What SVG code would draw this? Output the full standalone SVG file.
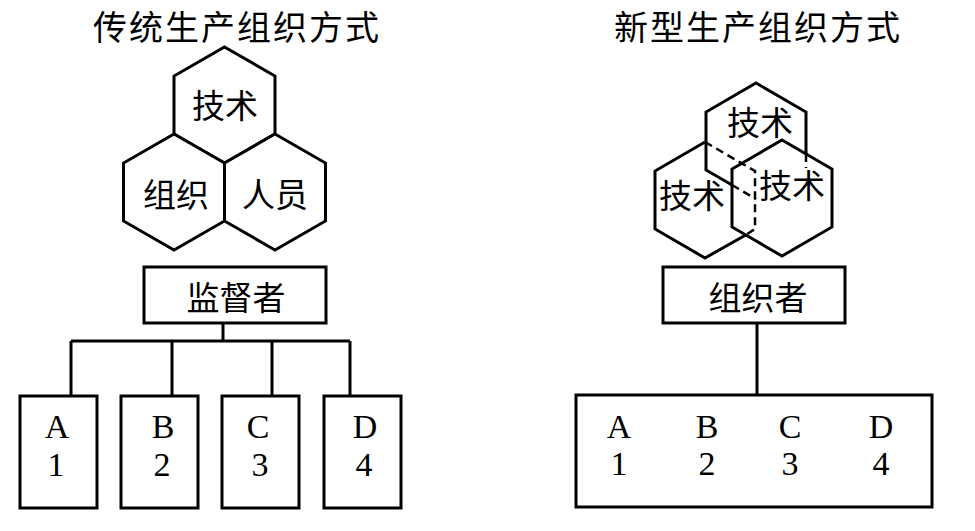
<svg xmlns="http://www.w3.org/2000/svg" width="975" height="531" viewBox="0 0 975 531">
<style>
.ln{fill:none;stroke:#000;stroke-width:3;stroke-linejoin:miter;stroke-linecap:butt}
.hex{fill:#fff;stroke:#000;stroke-width:3;stroke-linejoin:miter}
.ds{fill:none;stroke:#000;stroke-width:2.5;stroke-dasharray:8 5}
.box{fill:#fff;stroke:#000;stroke-width:3}
.cjk{font-family:"Noto Sans CJK SC","Noto Sans",sans-serif;fill:#000;text-anchor:middle}
.title{font-size:34px;letter-spacing:2px}
.lbl{font-size:33px}
.ser{font-family:"Liberation Serif","Times New Roman",serif;font-size:34px;fill:#000;text-anchor:middle}
.knock{fill:#fff;stroke:none}
</style>
<rect width="975" height="531" fill="#fff"/>

<g id="titles">
<text class="cjk title" x="237" y="40">传统生产组织方式</text>
<text class="cjk title" x="758" y="40">新型生产组织方式</text>
</g>

<!-- Left: traditional -->
<g id="hex-jishu-left">
<polygon class="hex" points="224.5,47 275,76 275,134 224.5,163 174,134 174,76"/>
<text class="cjk lbl" x="225" y="118">技术</text>
</g>
<g id="hex-zuzhi-left">
<polygon class="hex" points="174,134 224.5,163 224.5,221 174,250 123.5,221 123.5,163"/>
<text class="cjk lbl" x="176" y="207">组织</text>
</g>
<g id="hex-renyuan-left">
<polygon class="hex" points="275,134 325.5,163 325.5,221 275,250 224.5,221 224.5,163"/>
<text class="cjk lbl" x="275" y="207">人员</text>
</g>

<g id="connectors">
<path class="ln" d="M223,323 V341 M71,341 H350 M71,341 V396 M172,341 V396 M272,341 V396 M350,341 V396"/>
<path class="ln" d="M757,323 V395"/>
</g>

<g id="supervisor">
<rect class="box" x="144" y="267" width="182" height="56"/>
<text class="cjk lbl" x="236" y="310">监督者</text>
</g>
<g id="unit-A">
<rect class="box" x="20" y="396" width="77" height="112"/>
<text class="ser" x="57" y="438">A</text>
<text class="ser" x="56" y="476">1</text>
</g>
<g id="unit-B">
<rect class="box" x="121" y="396" width="77" height="112"/>
<text class="ser" x="163" y="438">B</text>
<text class="ser" x="162" y="476">2</text>
</g>
<g id="unit-C">
<rect class="box" x="222" y="396" width="77" height="112"/>
<text class="ser" x="258" y="438">C</text>
<text class="ser" x="260" y="476">3</text>
</g>
<g id="unit-D">
<rect class="box" x="324" y="396" width="77" height="112"/>
<text class="ser" x="365" y="438">D</text>
<text class="ser" x="364" y="476">4</text>
</g>

<!-- Right: new -->
<g id="hex-cluster-right">
<g id="hex-jishu-top">
<path class="ln" d="M732,185 L706,170 V112 L756,83 L806,112 V154"/>
<path class="ds" d="M732,185 L756,199 M806,154 V170"/>
</g>
<g id="hex-jishu-left2">
<path class="ln" d="M745.3,235.2 L705,258 L655,229 V171 L705,142"/>
<path class="ds" d="M705,142 L755,171 V229 L745.3,235.2"/>
</g>
<g id="hex-jishu-right2">
<path class="ln" d="M782,140 L832,169 V227 L782,256 L732,227 V169 Z"/>
</g>
<rect class="knock" x="758" y="168" width="68" height="34"/>
<text class="cjk lbl" x="760" y="135">技术</text>
<text class="cjk lbl" x="692" y="208">技术</text>
<text class="cjk lbl" x="792" y="198">技术</text>
</g>

<g id="organizer">
<rect class="box" x="663" y="267" width="182" height="56"/>
<text class="cjk lbl" x="758" y="310">组织者</text>
</g>
<g id="units-group">
<rect class="box" x="576" y="395" width="356" height="112"/>
<text class="ser" x="619" y="438">A</text>
<text class="ser" x="619" y="475">1</text>
<text class="ser" x="707" y="438">B</text>
<text class="ser" x="707" y="475">2</text>
<text class="ser" x="790" y="438">C</text>
<text class="ser" x="790" y="475">3</text>
<text class="ser" x="881" y="438">D</text>
<text class="ser" x="881" y="475">4</text>
</g>
</svg>
